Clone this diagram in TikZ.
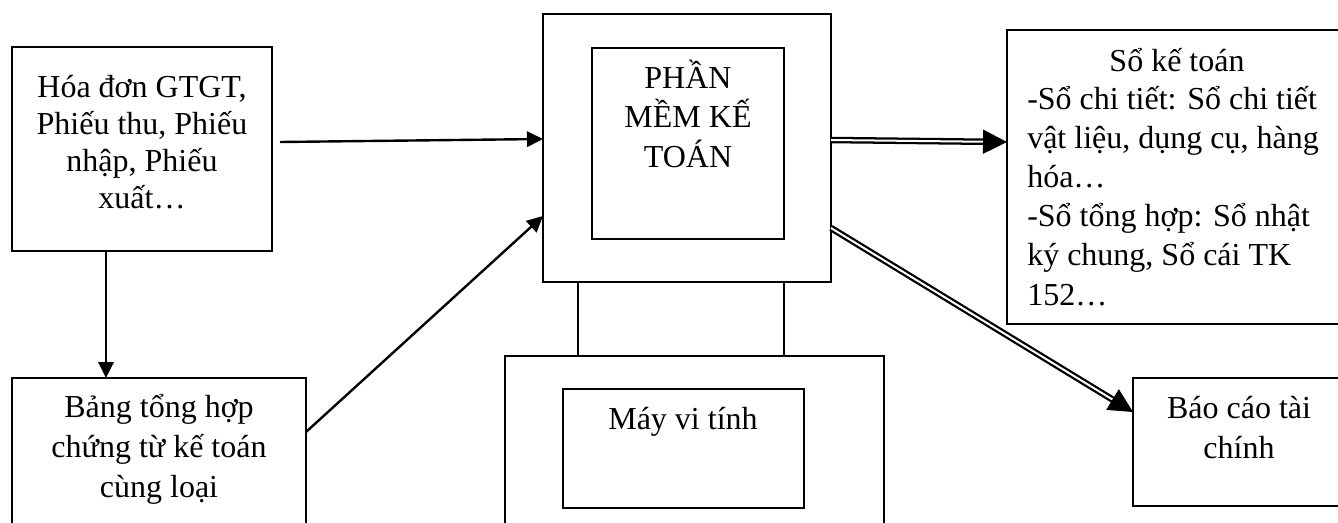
\documentclass[tikz,border=0pt]{standalone}
\usepackage{fontspec}
\setmainfont{Liberation Serif}
\usetikzlibrary{arrows.meta,fit,calc}

\begin{document}
\begin{tikzpicture}[
  x=0.75pt, y=-0.75pt,
  box/.style={draw, line width=1.4pt, inner sep=0pt, outer sep=0pt},
  txt/.style={inner sep=0pt, font=\fontsize{24pt}{28.5pt}\selectfont},
  link/.style={line width=1.8pt, -{Triangle[length=12pt,width=11.5pt]}},
  dbl/.style={double, line width=1.7pt, double distance=1.5pt, shorten >=16pt},
  dbltip/.style={line width=1pt, -{Triangle[length=18pt,width=18pt]}}
]
\useasboundingbox (0,0) rectangle (1338,522);
\clip (0,0) rectangle (1338,522);

% source documents and summary table (text nodes sit on their last baseline)
\node[box, fit={(12,47) (272,251)}] (A) {};
\node[txt, align=center, anchor=base, font=\fontsize{24pt}{27.75pt}\selectfont] (At) at (142,208)
  {Hóa đơn GTGT,\\Phiếu thu, Phiếu\\nhập, Phiếu\\xuất…};

\node[box, fit={(12,378) (306,545)}] (B) {};
\node[txt, align=center, anchor=base, font=\fontsize{24pt}{30pt}\selectfont] (Bt) at (159,497)
  {Bảng tổng hợp\\chứng từ kế toán\\cùng loại};

% the computer: screen with software, neck and base
\node[box, fit={(543,14) (831,282)}] (P) {};
\node[box, fit={(592,48) (784,239)}] (Pin) {};
\node[txt, align=center, anchor=base, font=\fontsize{24pt}{29.5pt}\selectfont] (Pt) at (688,167)
  {PHẦN\\MỀM KẾ\\TOÁN};
\node[box, fit={(578,282) (784,356)}] (neck) {};
\node[box, fit={(505,356) (884,545)}] (base) {};
\node[box, fit={(563,389) (804,508)}] (screen) {};
\node[txt, anchor=base] (Mt) at (683,429) {Máy vi tính};

% outputs
\node[box, fit={(1007,30) (1350,324)}] (S) {};
\node[txt, anchor=base] (St) at (1177,71) {Sổ kế toán};
\node[txt, align=left, anchor=base west, font=\fontsize{24pt}{29.4pt}\selectfont] (Sb) at (1027,305)
  {-Sổ chi tiết: Sổ chi tiết\\vật liệu, dụng cụ, hàng\\hóa…\\-Sổ tổng hợp: Sổ nhật\\ký chung, Sổ cái TK\\152…};

\node[box, fit={(1133,378) (1350,506)}] (R) {};
\node[txt, align=center, anchor=base, font=\fontsize{24pt}{30pt}\selectfont] (Rt) at (1239,458)
  {Báo cáo tài\\chính};

% single arrows
\coordinate (ab) at ($(A.south)+(-36,0)$);
\draw[link] (ab) -- (ab |- B.north);
\draw[link] ($(A.east)+(8,-7)$) -- ($(P.west)+(0,-9)$);
\draw[link] ($(B.east)+(0,-29.5)$) -- ($(P.west)+(0,68)$);

% double arrows
\coordinate (s1) at ($(P.east)+(0,-8)$);
\coordinate (e1) at ($(S.west)+(0,-35)$);
\draw[dbl] (s1) -- (e1);
\draw[dbltip] ($(e1)!17pt!(s1)$) -- (e1);

\coordinate (s2) at ($(P.east)+(0,80)$);
\coordinate (e2) at ($(R.west)+(0,-30)$);
\draw[dbl] (s2) -- (e2);
\draw[dbltip] ($(e2)!17pt!(s2)$) -- (e2);
\end{tikzpicture}
\end{document}
